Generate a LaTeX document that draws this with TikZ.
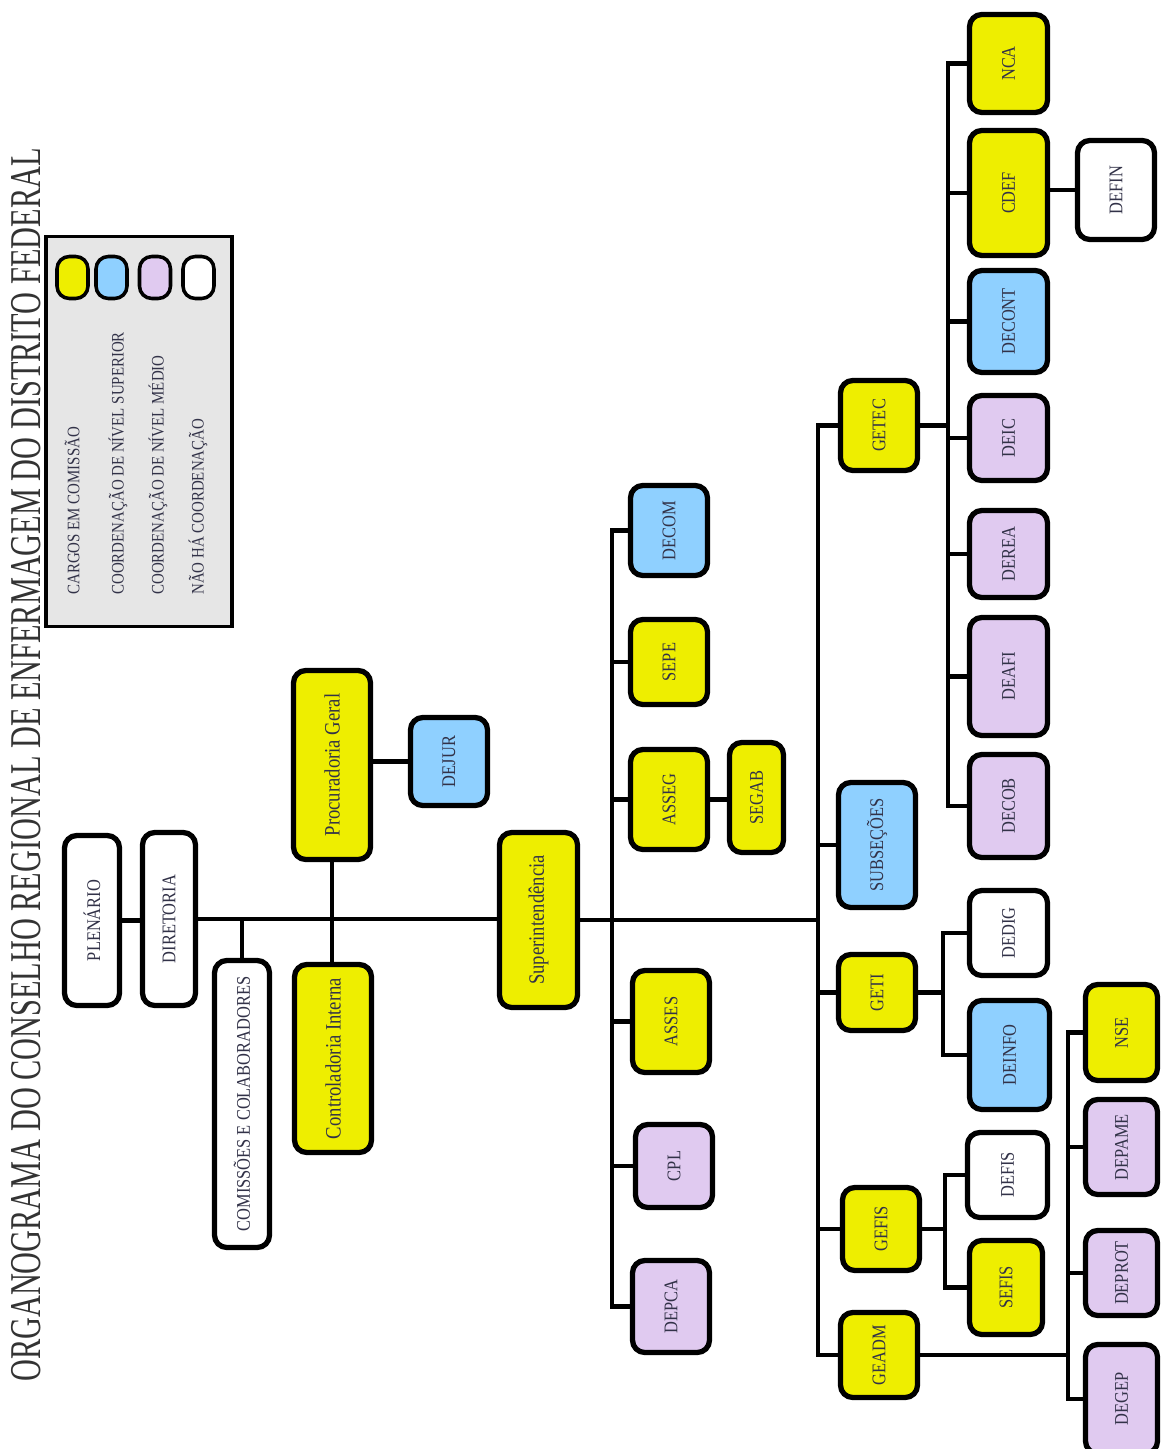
\documentclass[tikz,border=0pt]{standalone}
\usepackage{fontspec}
\setmainfont{Liberation Serif}[FakeStretch=0.85]
\newfontfamily\titlefont{Liberation Serif}[FakeStretch=0.69]
\usetikzlibrary{calc}
\definecolor{amarelo}{RGB}{238,238,0}
\definecolor{azul}{RGB}{143,208,255}
\definecolor{lilas}{RGB}{224,202,240}
\definecolor{cinza}{RGB}{230,230,230}
\definecolor{letra}{RGB}{50,50,72}
\tikzset{
  caixa/.style   = {draw, line width=3pt, rounded corners=7pt, text=letra,
                    inner sep=0pt, font=\fontsize{11}{13}\selectfont},
  liga/.style    = {line width=2.4pt},
  amostra/.style = {draw, line width=2pt, rounded corners=7pt,
                    minimum width=0.62cm, minimum height=0.84cm},
  legtxt/.style  = {text=letra, font=\fontsize{10}{12}\selectfont,
                    inner sep=0pt, anchor=south},
}
\newcommand{\maior}{\fontsize{12.5}{14}\selectfont}
% name, fill, x1, y1, x2, y2, text (pixel grid of the page)
\newcommand{\setor}[7]{%
  \node[caixa, fill=#2,
        minimum width={(#5-#3-5)*0.02cm}, minimum height={(#6-#4-5)*0.02cm}]
    (#1) at ({(#3+#5)/2}, {(#4+#6)/2}) {\rotatebox{90}{#7}};
}

\begin{document}
\begin{tikzpicture}[x=0.02cm, y=-0.02cm]
  \useasboundingbox (0,0) rectangle (1161,1449);

  % legenda
  \node[draw, line width=2.2pt, fill=cinza, minimum width=3.72cm, minimum height=7.8cm]
    (legenda) at (139,431.5) {};
  \node[amostra, fill=amarelo] (sw1) at (72.5,277.5) {};
  \node[amostra, fill=azul]    (sw2) at (111.5,277.5) {};
  \node[amostra, fill=lilas]   (sw3) at (155,277.5) {};
  \node[amostra, fill=white]   (sw4) at (198.5,277.5) {};
  \node[legtxt] (lg1) at (72,595)  {\rotatebox{90}{CARGOS EM COMISSÃO}};
  \node[legtxt] (lg2) at (118,595) {\rotatebox{90}{COORDENAÇÃO DE NÍVEL SUPERIOR}};
  \node[legtxt] (lg3) at (158,595) {\rotatebox{90}{COORDENAÇÃO DE NÍVEL MÉDIO}};
  \node[legtxt] (lg4) at (198,595) {\rotatebox{90}{NÃO HÁ COORDENAÇÃO}};

  \node[text=black!80, inner sep=0pt, font=\titlefont\fontsize{25}{30}\selectfont]
    (titulo) at (26,765)
    {\rotatebox{90}{ORGANOGRAMA DO CONSELHO REGIONAL DE ENFERMAGEM DO DISTRITO FEDERAL}};

  % conselho e diretoria
  \setor{plen}{white}{62}{833}{122}{1008}{PLENÁRIO}
  \setor{dir}{white}{140}{830}{198}{1008}{DIRETORIA}
  \setor{com}{white}{212}{958}{272}{1250}{COMISSÕES E COLABORADORES}
  \setor{proc}{amarelo}{291}{668}{373}{862}{\maior Procuradoria Geral}
  \setor{dejur}{azul}{408}{715}{490}{808}{DEJUR}
  \setor{ctrl}{amarelo}{292}{962}{374}{1155}{\maior Controladoria Interna}
  \setor{sup}{amarelo}{497}{830}{580}{1010}{\maior Superintendência}

  % assessorias
  \setor{decom}{azul}{628}{483}{710}{578}{DECOM}
  \setor{sepe}{amarelo}{628}{617}{710}{707}{SEPE}
  \setor{asseg}{amarelo}{628}{747}{710}{852}{ASSEG}
  \setor{segab}{amarelo}{727}{740}{786}{855}{SEGAB}
  \setor{asses}{amarelo}{630}{968}{712}{1075}{ASSES}
  \setor{cpl}{lilas}{633}{1122}{715}{1210}{CPL}
  \setor{depca}{lilas}{630}{1258}{712}{1355}{DEPCA}

  % gerencias
  \setor{getec}{amarelo}{838}{378}{920}{473}{GETEC}
  \setor{subs}{azul}{836}{780}{918}{910}{SUBSEÇÕES}
  \setor{geti}{amarelo}{836}{952}{918}{1033}{GETI}
  \setor{gefis}{amarelo}{840}{1185}{922}{1273}{GEFIS}
  \setor{geadm}{amarelo}{838}{1310}{920}{1400}{GEADM}

  % departamentos
  \setor{nca}{amarelo}{967}{12}{1050}{115}{NCA}
  \setor{cdef}{amarelo}{967}{128}{1050}{258}{CDEF}
  \setor{defin}{white}{1075}{138}{1157}{242}{DEFIN}
  \setor{decont}{azul}{967}{268}{1050}{375}{DECONT}
  \setor{deic}{lilas}{967}{393}{1050}{483}{DEIC}
  \setor{derea}{lilas}{967}{508}{1050}{600}{DEREA}
  \setor{deafi}{lilas}{967}{615}{1050}{738}{DEAFI}
  \setor{decob}{lilas}{967}{752}{1050}{860}{DECOB}
  \setor{dedig}{white}{967}{888}{1050}{978}{DEDIG}
  \setor{deinfo}{azul}{967}{998}{1052}{1112}{DEINFO}
  \setor{defis}{white}{965}{1130}{1050}{1220}{DEFIS}
  \setor{sefis}{amarelo}{967}{1238}{1045}{1337}{SEFIS}
  \setor{nse}{amarelo}{1083}{982}{1160}{1083}{NSE}
  \setor{depame}{lilas}{1083}{1097}{1160}{1197}{DEPAME}
  \setor{deprot}{lilas}{1083}{1228}{1160}{1318}{DEPROT}
  \setor{degep}{lilas}{1083}{1342}{1160}{1456}{DEGEP}

  \coordinate (lbus) at (612,920);
  \coordinate (rbus) at (818,920);
  \coordinate (tbus) at (948,425);
  \coordinate (ibus) at (943,993);
  \coordinate (fbus) at (945,1230);
  \coordinate (abus) at (1068,1358);

  % ligacoes
  \draw[liga] (plen.east) -- (plen.east -| dir.west);
  \draw[liga] (dir.east) -- (dir.east -| sup.west);
  \draw[liga] (com.north) -- (com.north |- dir.east);
  \draw[liga] (proc.south) -- (proc.south |- ctrl.north);
  \draw[liga] (dejur.west -| proc.east) -- (dejur.west);
  \draw[liga] (sup.east) -- (sup.east -| rbus);

  \draw[liga] (decom.west) -- (lbus |- decom.west) -- (lbus |- depca.west) -- (depca.west);
  \foreach \n in {sepe, asseg, asses, cpl}
    \draw[liga] (lbus |- \n.west) -- (\n.west);
  \draw[liga] (asseg.east) -- (asseg.east -| segab.west);

  \draw[liga] (getec.west) -- (rbus |- getec.west) -- (rbus |- geadm.west) -- (geadm.west);
  \foreach \n in {subs, geti, gefis}
    \draw[liga] (rbus |- \n.west) -- (\n.west);

  \draw[liga] (getec.east) -- (getec.east -| tbus);
  \draw[liga] (nca.west) -- (tbus |- nca.west) -- (tbus |- decob.west) -- (decob.west);
  \foreach \n in {cdef, decont, deic, derea, deafi}
    \draw[liga] (tbus |- \n.west) -- (\n.west);
  \draw[liga] (defin.west -| cdef.east) -- (defin.west);

  \draw[liga] (geti.east) -- (geti.east -| ibus);
  \draw[liga] (dedig.west) -- (ibus |- dedig.west) -- (ibus |- deinfo.west) -- (deinfo.west);

  \draw[liga] (gefis.east) -- (gefis.east -| fbus);
  \draw[liga] (defis.west) -- (fbus |- defis.west) -- (fbus |- sefis.west) -- (sefis.west);

  \draw[liga] (geadm.east) -- (geadm.east -| abus);
  \draw[liga] (nse.west) -- (abus |- nse.west) -- (abus |- degep.west) -- (degep.west);
  \foreach \n in {depame, deprot}
    \draw[liga] (abus |- \n.west) -- (\n.west);
\end{tikzpicture}
\end{document}
